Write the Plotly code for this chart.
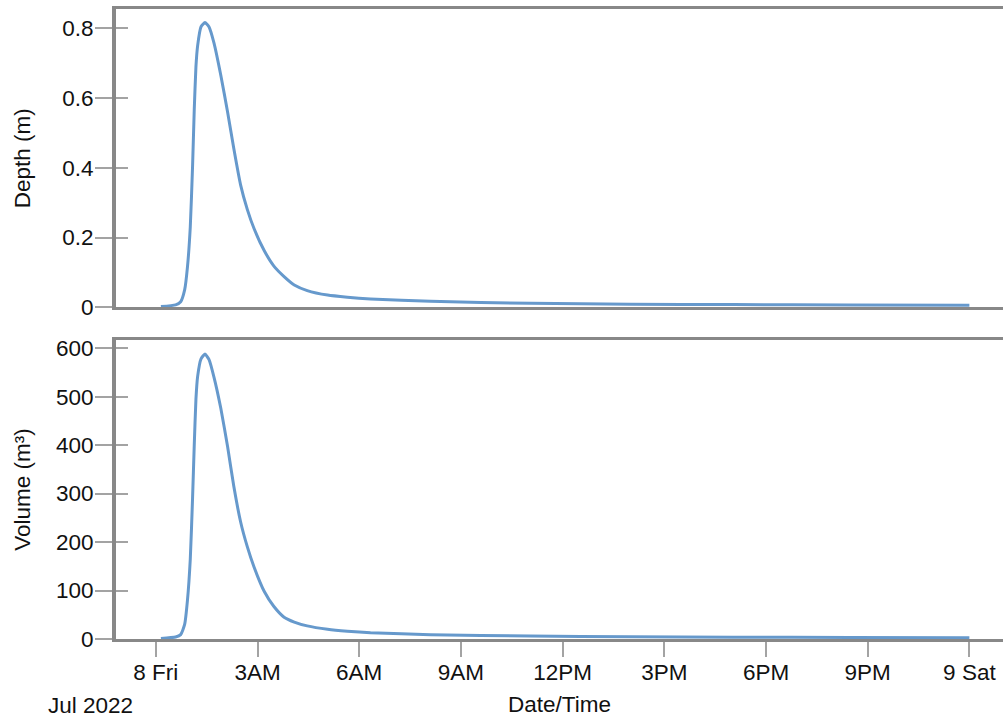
import plotly.graph_objects as go

# ---------------- data ----------------
times = [
    "2022-07-08 00:09", "2022-07-08 00:35",
    "2022-07-08 00:44", "2022-07-08 00:51", "2022-07-08 00:56", "2022-07-08 01:01",
    "2022-07-08 01:05", "2022-07-08 01:08", "2022-07-08 01:11", "2022-07-08 01:14",
    "2022-07-08 01:20", "2022-07-08 01:27", "2022-07-08 01:34", "2022-07-08 01:43",
    "2022-07-08 01:55", "2022-07-08 02:07", "2022-07-08 02:18", "2022-07-08 02:30",
    "2022-07-08 02:42", "2022-07-08 02:54", "2022-07-08 03:12", "2022-07-08 03:29",
    "2022-07-08 03:47", "2022-07-08 04:05", "2022-07-08 04:28", "2022-07-08 05:04",
    "2022-07-08 05:39", "2022-07-08 06:20", "2022-07-08 08:06", "2022-07-08 11:03",
    "2022-07-08 14:00", "2022-07-08 17:02", "2022-07-08 20:29", "2022-07-09 00:00",
]
depth = [
    0.002, 0.007,
    0.016, 0.050, 0.116, 0.231,
    0.403, 0.566, 0.690, 0.750,
    0.804, 0.816, 0.804, 0.757,
    0.665, 0.560, 0.455, 0.351,
    0.280, 0.225, 0.162, 0.118,
    0.088, 0.064, 0.048, 0.035,
    0.029, 0.024, 0.017, 0.0115,
    0.0086, 0.0077, 0.0066, 0.0057,
]
volume = [
    1.0, 4.0,
    9.0, 30.0, 80.0, 165.0,
    290.0, 400.0, 495.0, 542.0,
    578.0, 588.0, 577.0, 540.0,
    476.0, 397.0, 315.0, 242.0,
    190.0, 148.0, 98.0, 67.0,
    45.0, 35.0, 27.0, 20.0,
    16.0, 13.0, 9.0, 6.0,
    4.5, 3.8, 3.2, 2.8,
]

depth_ticks = [0, 0.2, 0.4, 0.6, 0.8]
volume_ticks = [0, 100, 200, 300, 400, 500, 600]
x_tick_vals = [
    "2022-07-08 00:00", "2022-07-08 03:00", "2022-07-08 06:00", "2022-07-08 09:00",
    "2022-07-08 12:00", "2022-07-08 15:00", "2022-07-08 18:00", "2022-07-08 21:00",
    "2022-07-09 00:00",
]
x_tick_text = ["8 Fri", "3AM", "6AM", "9AM", "12PM", "3PM", "6PM", "9PM", "9 Sat"]
x_range = ["2022-07-07 22:49:30", "2022-07-09 00:59:30"]
depth_range = [0, 0.855]
volume_range = [0, 617]

# ---------------- style ----------------
LINE_COLOR = "#6699cc"
AXIS_COLOR = "#888888"
TICK_COLOR = "#a3a3a3"
FONT = dict(family="Liberation Sans, Arial, sans-serif", size=22.5, color="#111111")

fig = go.Figure()
fig.add_trace(go.Scatter(x=times, y=depth, mode="lines", xaxis="x", yaxis="y",
                         line=dict(color=LINE_COLOR, width=3, shape="spline", smoothing=0.5),
                         showlegend=False, hoverinfo="x+y"))
fig.add_trace(go.Scatter(x=times, y=volume, mode="lines", xaxis="x2", yaxis="y2",
                         line=dict(color=LINE_COLOR, width=3, shape="spline", smoothing=0.5),
                         showlegend=False, hoverinfo="x+y"))
# empty traces so the inside-tick overlay axes get drawn
fig.add_trace(go.Scatter(x=[], y=[], xaxis="x", yaxis="y3", showlegend=False))
fig.add_trace(go.Scatter(x=[], y=[], xaxis="x2", yaxis="y4", showlegend=False))

top_dom = [0.5265, 1.0]
bot_dom = [0.0, 0.4746]

common_x = dict(type="date", range=x_range, showgrid=False, zeroline=False,
                showline=True, linecolor=AXIS_COLOR, linewidth=3, mirror=True)
common_y = dict(showgrid=False, zeroline=False, showline=True, linecolor=AXIS_COLOR,
                linewidth=4, ticks="outside", ticklen=17, tickwidth=2, tickcolor=TICK_COLOR,
                tickfont=FONT, ticklabelstandoff=-3)

fig.update_layout(
    width=1003, height=721,
    margin=dict(l=116, r=0, t=9, b=82),
    paper_bgcolor="white", plot_bgcolor="white",
    font=FONT,
    xaxis=dict(common_x, anchor="y", domain=[0, 1], matches="x2",
               showticklabels=False, ticks=""),
    xaxis2=dict(common_x, anchor="y2", domain=[0, 1],
                tickmode="array", tickvals=x_tick_vals, ticktext=x_tick_text,
                ticks="outside", ticklen=15, tickwidth=2, tickcolor=TICK_COLOR,
                tickfont=FONT, ticklabelstandoff=-4,
                title=dict(text="Date/Time", font=FONT, standoff=13)),
    yaxis=dict(common_y, domain=top_dom, range=depth_range, anchor="x",
               tickmode="array", tickvals=depth_ticks,
               title=dict(text="Depth (m)", font=FONT, standoff=26)),
    yaxis2=dict(common_y, domain=bot_dom, range=volume_range, anchor="x2",
                tickmode="array", tickvals=volume_ticks,
                title=dict(text="Volume (m³)", font=FONT, standoff=20)),
    yaxis3=dict(overlaying="y", anchor="x", range=depth_range, showgrid=False,
                zeroline=False, showline=False, showticklabels=False,
                tickmode="array", tickvals=depth_ticks, ticks="inside", ticklen=12,
                tickwidth=2, tickcolor=TICK_COLOR),
    yaxis4=dict(overlaying="y2", anchor="x2", range=volume_range, showgrid=False,
                zeroline=False, showline=False, showticklabels=False,
                tickmode="array", tickvals=volume_ticks, ticks="inside", ticklen=12,
                tickwidth=2, tickcolor=TICK_COLOR),
    annotations=[dict(text="Jul 2022", xref="paper", yref="paper",
                      x=-0.029, y=-0.105, xanchor="center", yanchor="middle",
                      showarrow=False, font=FONT)],
)

fig.write_html("out.html")
